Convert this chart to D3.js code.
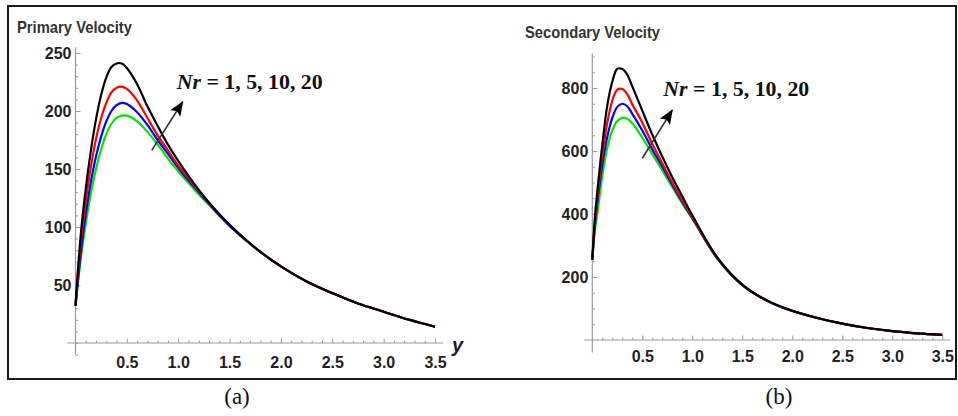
<!DOCTYPE html>
<html>
<head>
<meta charset="utf-8">
<script src="https://cdn.jsdelivr.net/npm/d3@7/dist/d3.min.js"></script>
<style>
  body { margin: 0; background: #fff; }
  svg { display: block; }
</style>
</head>
<body>
<div id="chart-area"></div>
<script>
// Nr values, drawn bottom to top: green = 1, blue = 5, red = 10, black = 20
var nrValues = [1, 5, 10, 20];
var lineColors = ["#00e600", "#0000ff", "#ff0000", "#000000"];

// (a) Primary velocity
var xPrimary = [0, 0.05, 0.1, 0.15, 0.2, 0.25, 0.3, 0.35, 0.4, 0.45, 0.5, 0.6, 0.7, 0.8, 0.9,
    1.0, 1.1, 1.2, 1.3, 1.4, 1.5, 1.75, 2.0, 2.25, 2.5, 2.75, 3.0, 3.25, 3.5];
var primaryNr1  = [32, 72, 103, 129, 150, 167, 180, 189, 194, 196, 196, 191, 182, 171, 159,
    148, 138, 128, 119, 110, 101, 82, 66, 53, 43, 34, 27, 20, 14];
var primaryNr5  = [32, 76, 111, 139, 161, 178, 191, 200, 205, 207, 206, 199, 188, 175, 163,
    151, 140, 130, 120, 110, 101, 82, 66, 53, 43, 34, 27, 20, 14];
var primaryNr10 = [32, 85, 122, 152, 176, 194, 207, 216, 220, 221, 219, 209, 194, 179, 166,
    153, 142, 131, 121, 111, 102, 82, 66, 53, 43, 34, 27, 20, 14];
var primaryNr20 = [32, 92, 133, 166, 193, 214, 229, 238, 241, 241, 237, 223, 204, 187, 171,
    157, 144, 132, 121, 111, 102, 82, 66, 53, 43, 34, 27, 20, 14];
var primaryYTicks = [50, 100, 150, 200, 250];

// (b) Secondary velocity
var xSecondary = [0, 0.025, 0.05, 0.1, 0.15, 0.2, 0.25, 0.3, 0.35, 0.4, 0.5, 0.6, 0.7, 0.8, 0.9,
    1.0, 1.25, 1.5, 1.75, 2.0, 2.25, 2.5, 2.75, 3.0, 3.25, 3.5];
var secondaryNr1  = [255, 345, 400, 520, 610, 665, 695, 705, 702, 688, 642, 590, 538, 485, 433,
    385, 258, 174, 124, 92, 70, 52, 38, 28, 21, 16];
var secondaryNr5  = [255, 360, 435, 555, 645, 705, 740, 750, 742, 718, 665, 605, 550, 493, 438,
    387, 259, 174, 124, 92, 70, 52, 38, 28, 21, 16];
var secondaryNr10 = [255, 370, 450, 585, 690, 760, 795, 797, 780, 748, 690, 622, 560, 500, 443,
    390, 260, 175, 125, 93, 70, 52, 38, 28, 21, 16];
var secondaryNr20 = [255, 385, 470, 620, 745, 820, 861, 860, 842, 805, 728, 652, 582, 517, 456,
    396, 262, 176, 125, 93, 70, 52, 38, 28, 21, 16];
var secondaryYTicks = [200, 400, 600, 800];

var xTicks = [0.5, 1.0, 1.5, 2.0, 2.5, 3.0, 3.5];

var svg = d3.select("#chart-area")
    .append("svg")
        .attr("width", 958)
        .attr("height", 416);

svg.append("rect")
    .attr("width", 958)
    .attr("height", 416)
    .attr("fill", "#fff");

// outer frame
svg.append("rect")
    .attr("x", 8).attr("y", 6)
    .attr("width", 948).attr("height", 373)
    .attr("fill", "none")
    .attr("stroke", "#1a1a1a")
    .attr("stroke-width", 2);

svg.append("defs").append("marker")
    .attr("id", "head")
    .attr("markerUnits", "userSpaceOnUse")
    .attr("markerWidth", 16).attr("markerHeight", 12)
    .attr("refX", 14).attr("refY", 6)
    .attr("orient", "auto")
  .append("path")
    .attr("d", "M0,0 L15,6 L0,12 L3,6 Z")
    .attr("fill", "#000");

function drawPanel(p) {
    var x = d3.scaleLinear().domain([0, 3.5]).range(p.xRange);
    var y = d3.scaleLinear().domain(p.yDomain).range(p.yRange);
    var g = svg.append("g");

    // axis lines (Mathematica style, overshooting the origin)
    g.append("line")
        .attr("x1", x(-0.08)).attr("x2", x(3.58))
        .attr("y1", y(0)).attr("y2", y(0))
        .attr("stroke", "#999").attr("stroke-width", 1.2);
    g.append("line")
        .attr("x1", x(0)).attr("x2", x(0))
        .attr("y1", y(p.yMin)).attr("y2", y(p.yMax))
        .attr("stroke", "#999").attr("stroke-width", 1.2);

    // minor ticks
    var xMinor = d3.range(1, 36).map(d => d / 10).filter(d => Math.round(d * 10) % 5 !== 0);
    g.append("g")
        .attr("transform", "translate(0," + y(0) + ")")
        .call(d3.axisBottom(x).tickValues(xMinor).tickSize(-2.5).tickFormat(""))
        .call(a => a.select(".domain").remove())
        .selectAll("line").attr("stroke", "#999");

    var yMinor = d3.range(p.yMinorStart, p.yMax, p.yMinorStep)
        .filter(d => p.yTicks.indexOf(d) < 0);
    g.append("g")
        .attr("transform", "translate(" + x(0) + ",0)")
        .call(d3.axisLeft(y).tickValues(yMinor).tickSize(-2.5).tickFormat(""))
        .call(a => a.select(".domain").remove())
        .selectAll("line").attr("stroke", "#999");

    // major ticks + labels
    var xAxis = g.append("g")
        .attr("transform", "translate(0," + y(0) + ")")
        .call(d3.axisBottom(x).tickValues(xTicks).tickSize(-4.5)
            .tickPadding(p.xPad).tickFormat(d3.format(".1f")));
    xAxis.select(".domain").remove();

    var yAxis = g.append("g")
        .attr("transform", "translate(" + x(0) + ",0)")
        .call(d3.axisLeft(y).tickValues(p.yTicks).tickSize(-5).tickPadding(4));
    yAxis.select(".domain").remove();

    [xAxis, yAxis].forEach(a => {
        a.selectAll("line").attr("stroke", "#999");
        a.selectAll("text")
            .attr("fill", "#222")
            .attr("font-family", "'Liberation Sans', Arial, sans-serif")
            .attr("font-weight", "bold")
            .attr("font-size", "16px");
    });

    // title
    svg.append("text")
        .attr("x", p.titleX).attr("y", p.titleY)
        .attr("font-family", "'Liberation Sans', Arial, sans-serif")
        .attr("font-weight", "bold")
        .attr("font-size", "17px")
        .attr("fill", "#333")
        .attr("textLength", p.titleLen)
        .attr("lengthAdjust", "spacingAndGlyphs")
        .text(p.title);

    // curves
    var line = d3.line()
        .x(d => x(d[0]))
        .y(d => y(d[1]))
        .curve(d3.curveCatmullRom.alpha(0.5));

    p.series.forEach((vals, i) => {
        g.append("path")
            .datum(p.xs.map((xv, j) => [xv, vals[j]]))
            .attr("d", line)
            .attr("fill", "none")
            .attr("stroke", lineColors[i])
            .attr("stroke-width", 2.2)
            .attr("stroke-linejoin", "round");
    });

    // arrow + Nr label
    g.append("line")
        .attr("x1", x(p.arrow[0])).attr("y1", y(p.arrow[1]))
        .attr("x2", x(p.arrow[2])).attr("y2", y(p.arrow[3]))
        .attr("stroke", "#333")
        .attr("stroke-width", 1.6)
        .attr("marker-end", "url(#head)");

    var lbl = g.append("text")
        .attr("x", x(p.label[0])).attr("y", y(p.label[1]))
        .attr("font-family", "'Liberation Serif', 'Times New Roman', serif")
        .attr("font-weight", "bold")
        .attr("font-size", "20px")
        .attr("fill", "#111")
        .attr("textLength", 146)
        .attr("lengthAdjust", "spacingAndGlyphs");
    lbl.append("tspan").attr("font-style", "italic").text("Nr");
    lbl.append("tspan").text(" = " + nrValues.join(", "));

    if (p.axisName) {
        g.append("text")
            .attr("x", x(3.5) + 17).attr("y", y(0) + 9)
            .attr("font-family", "'Liberation Sans', Arial, sans-serif")
            .attr("font-weight", "bold")
            .attr("font-style", "italic")
            .attr("font-size", "20px")
            .attr("fill", "#1a1a3a")
            .text(p.axisName);
    }

    svg.append("text")
        .attr("x", p.capX).attr("y", 404)
        .attr("text-anchor", "middle")
        .attr("font-family", "'Liberation Serif', 'Times New Roman', serif")
        .attr("font-size", "23px")
        .attr("fill", "#111")
        .text(p.caption);
}

drawPanel({
    xRange: [75.5, 435], yDomain: [0, 250], yRange: [343, 53],
    yMin: -10, yMax: 255, yMinorStart: -10, yMinorStep: 10, yTicks: primaryYTicks,
    xPad: 14,
    title: "Primary Velocity", titleX: 17, titleY: 33, titleLen: 115,
    xs: xPrimary,
    series: [primaryNr1, primaryNr5, primaryNr10, primaryNr20],
    arrow: [0.742, 166, 1.044, 208],
    label: [0.985, 219],
    axisName: "y",
    caption: "(a)", capX: 237
});

drawPanel({
    xRange: [592.3, 942.3], yDomain: [0, 800], yRange: [340, 88],
    yMin: -40, yMax: 910, yMinorStart: 50, yMinorStep: 50, yTicks: secondaryYTicks,
    xPad: 11,
    title: "Secondary Velocity", titleX: 525, titleY: 38, titleLen: 135,
    xs: xSecondary,
    series: [secondaryNr1, secondaryNr5, secondaryNr10, secondaryNr20],
    arrow: [0.5, 577, 0.8, 730],
    label: [0.71, 776],
    axisName: null,
    caption: "(b)", capX: 779
});
</script>
</body>
</html>
